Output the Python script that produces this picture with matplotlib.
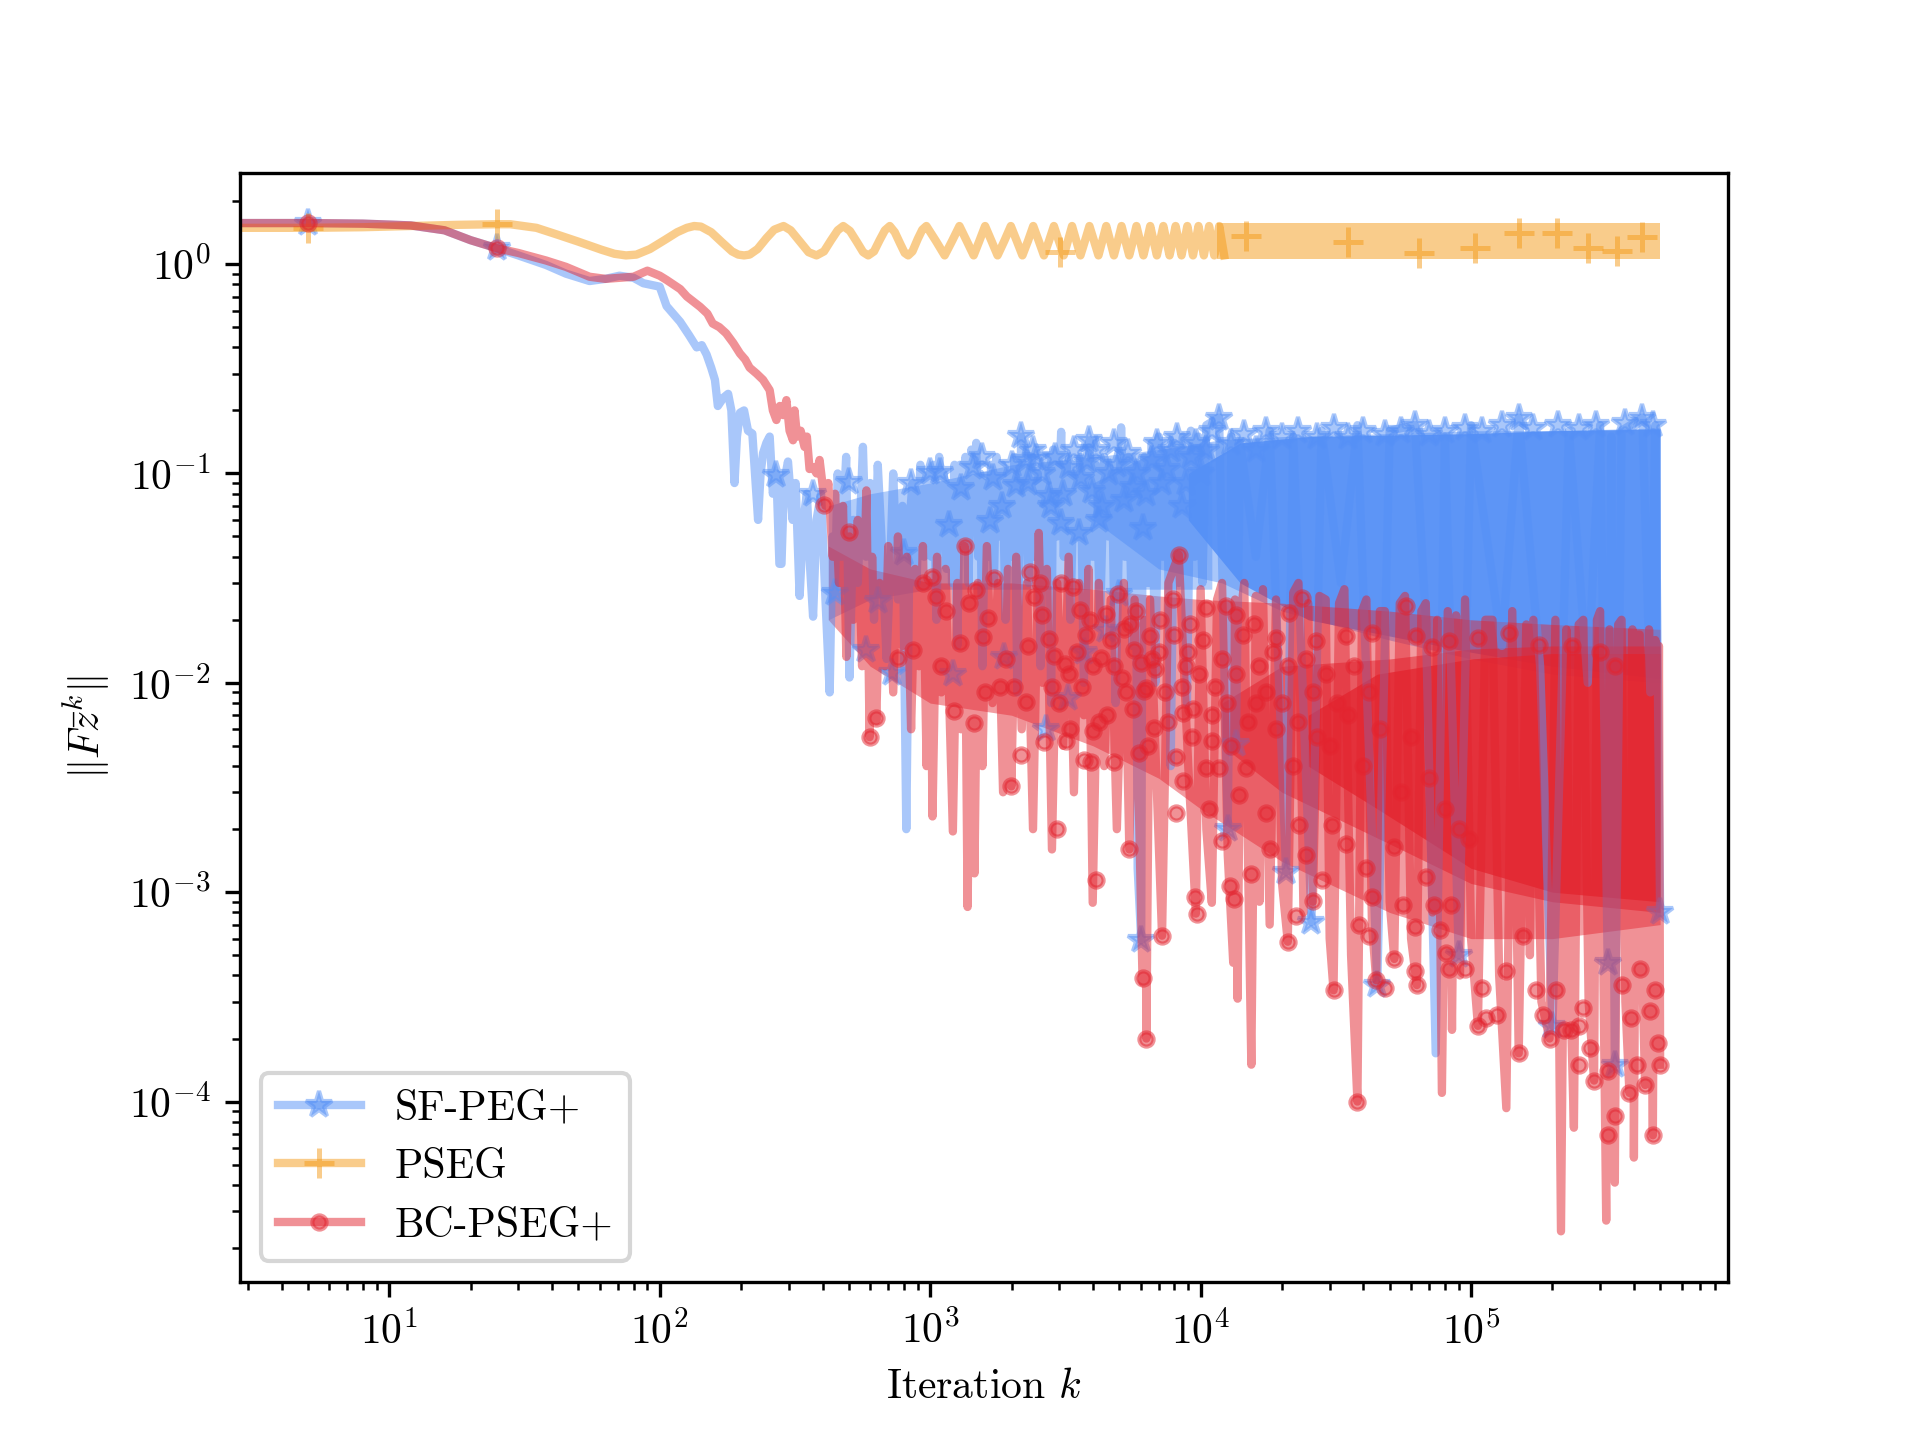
import matplotlib
matplotlib.use("Agg")
import matplotlib.pyplot as plt
from matplotlib.lines import Line2D

plt.rcParams.update({
    "font.family": "serif",
    "font.serif": ["cmr10"],
    "mathtext.fontset": "cm",
    "axes.formatter.use_mathtext": True,
    "axes.unicode_minus": False,
    "font.size": 10,
})

# ---------------- data ----------------
labels = ["SF-PEG+", "PSEG", "BC-PSEG+"]
colors = ["#5590F6", "#F59B19", "#E3242F"]

# SF-PEG+ line (iteration, value)
blue_line = [(2, 1.57), (5, 1.57), (8, 1.56), (12, 1.53), (16, 1.45), (20, 1.30), (25, 1.19),
    (30, 1.10), (38, 0.99), (45, 0.90), (55, 0.83), (63, 0.85), (71, 0.88), (80, 0.86), (87, 0.81),
    (100, 0.78), (106, 0.63), (112, 0.58), (119, 0.53), (128, 0.46), (137, 0.40), (143, 0.41),
    (149, 0.37), (155, 0.32), (160, 0.28), (164, 0.21), (172, 0.23), (179, 0.24), (184, 0.20),
    (189, 0.09), (193, 0.15), (198, 0.195), (205, 0.20), (212, 0.16), (220, 0.155), (231, 0.06),
    (236, 0.10), (241, 0.125), (248, 0.14), (255, 0.15), (262, 0.08), (270, 0.10), (277, 0.037),
    (282, 0.037), (288, 0.09), (298, 0.114), (310, 0.06), (318, 0.09), (329, 0.026), (340, 0.06),
    (350, 0.08), (360, 0.035), (369, 0.0207), (380, 0.06), (395, 0.08), (410, 0.025), (425, 0.009),
    (435, 0.05), (444, 0.027), (455, 0.10), (470, 0.04), (489, 0.12), (503, 0.0106), (520, 0.06),
    (540, 0.03), (564, 0.134), (580, 0.04), (600, 0.09), (620, 0.02), (640, 0.11), (660, 0.05),
    (690, 0.013), (708, 0.03), (730, 0.10), (760, 0.025), (790, 0.07), (816, 0.002), (840, 0.06),
    (860, 0.09), (890, 0.03), (920, 0.11), (950, 0.04), (990, 0.10), (1010, 0.04), (1030, 0.11),
    (1055, 0.02), (1080, 0.12), (1100, 0.05), (1120, 0.10), (1150, 0.035), (1180, 0.09),
    (1205, 0.03), (1230, 0.11), (1260, 0.015), (1290, 0.11), (1320, 0.045), (1350, 0.12),
    (1385, 0.03), (1420, 0.13), (1450, 0.06), (1480, 0.14), (1505, 0.04), (1530, 0.10),
    (1560, 0.012), (1600, 0.09), (1640, 0.04), (1680, 0.11), (1720, 0.03), (1760, 0.12),
    (1800, 0.05), (1850, 0.11), (1900, 0.02), (1950, 0.10), (2000, 0.04), (2050, 0.12),
    (2100, 0.009), (2170, 0.15), (2210, 0.05), (2250, 0.11), (2310, 0.03), (2380, 0.12),
    (2440, 0.04), (2500, 0.10), (2560, 0.012), (2620, 0.09), (2690, 0.04), (2750, 0.12),
    (2800, 0.008), (2850, 0.13), (2950, 0.05), (3050, 0.158), (3120, 0.04), (3200, 0.11),
    (3300, 0.02), (3400, 0.10), (3500, 0.05), (3600, 0.12), (3700, 0.01), (3880, 0.144),
    (3990, 0.04), (4100, 0.11), (4250, 0.02), (4400, 0.12), (4550, 0.05), (4700, 0.10),
    (4850, 0.008), (5080, 0.166), (5250, 0.04), (5400, 0.12), (5600, 0.015), (5750, 0.11),
    (5850, 0.0013), (6030, 0.00059), (6100, 0.10), (6200, 0.12), (6400, 0.03), (6600, 0.14),
    (6800, 0.01), (7000, 0.15), (7250, 0.04), (7500, 0.13), (7750, 0.004), (8000, 0.14),
    (8300, 0.03), (8600, 0.15), (8900, 0.008), (9200, 0.16), (9500, 0.04), (9800, 0.15),
    (10150, 0.03), (10500, 0.17), (11700, 0.185), (12600, 0.002), (13000, 0.15), (13500, 0.0051),
    (14000, 0.14), (16000, 0.04), (18000, 0.16), (20700, 0.00125), (22000, 0.15), (25700, 0.00072),
    (28000, 0.16), (33000, 0.03), (38000, 0.17), (45000, 0.00036), (50000, 0.16), (62000, 0.17),
    (68000, 0.02), (74000, 0.00017), (80000, 0.15), (90000, 0.0005), (100000, 0.17),
    (130000, 0.015), (150000, 0.185), (180000, 0.012), (200000, 0.00023), (230000, 0.16),
    (270000, 0.01), (300000, 0.17), (320000, 0.00046), (330000, 0.15), (340000, 0.00015),
    (360000, 0.16), (430000, 0.185), (460000, 0.009), (480000, 0.17), (500000, 0.0008)]

blue_marks = [(5, 1.57), (25, 1.19), (270, 0.098), (369, 0.080), (444, 0.027), (503, 0.091),
    (581, 0.0143), (641, 0.0245), (725, 0.0112), (803, 0.0415), (851, 0.090), (1000, 0.102),
    (1084, 0.102), (1175, 0.057), (1211, 0.011), (1300, 0.085), (1435, 0.107), (1550, 0.12),
    (1660, 0.059), (1700, 0.095), (1850, 0.070), (1880, 0.0133), (2000, 0.11), (2080, 0.088),
    (2170, 0.151), (2265, 0.116), (2300, 0.09), (2400, 0.13), (2470, 0.118), (2600, 0.10),
    (2690, 0.006), (2760, 0.078), (2800, 0.07), (2900, 0.12), (3050, 0.058), (3100, 0.08),
    (3220, 0.0085), (3270, 0.107), (3400, 0.13), (3560, 0.052), (3600, 0.095), (3720, 0.014),
    (3800, 0.115), (3880, 0.144), (3980, 0.082), (4100, 0.13), (4200, 0.06), (4330, 0.070),
    (4470, 0.0178), (4600, 0.10), (4800, 0.14), (4920, 0.11), (5000, 0.0265), (5200, 0.075),
    (5400, 0.125), (5600, 0.086), (5800, 0.10), (6030, 0.00059), (6100, 0.055), (6300, 0.08),
    (6600, 0.116), (6900, 0.14), (7200, 0.09), (7500, 0.105), (7800, 0.13), (8200, 0.15),
    (8500, 0.07), (8800, 0.09), (9200, 0.12), (9600, 0.14), (10000, 0.10), (10500, 0.13),
    (11000, 0.16), (11700, 0.185), (12600, 0.002), (13000, 0.14), (13500, 0.0051), (14500, 0.155),
    (16000, 0.13), (17500, 0.16), (20000, 0.15), (20700, 0.00125), (23000, 0.16), (25700, 0.00072),
    (27000, 0.15), (31000, 0.165), (35000, 0.15), (40000, 0.16), (45000, 0.00036), (48000, 0.155),
    (55000, 0.16), (62000, 0.17), (70000, 0.155), (80000, 0.16), (90000, 0.0005), (95000, 0.165),
    (110000, 0.16), (130000, 0.17), (150000, 0.185), (170000, 0.165), (200000, 0.00023),
    (210000, 0.17), (250000, 0.165), (290000, 0.17), (320000, 0.00046), (340000, 0.00015),
    (370000, 0.175), (430000, 0.185), (470000, 0.17), (500000, 0.0008)]

# dense parts of SF-PEG+ (iteration, lower, upper)
blue_pale = [(420, 0.02, 0.07), (600, 0.025, 0.08), (1000, 0.028, 0.09), (2000, 0.028, 0.11),
    (4000, 0.028, 0.12), (7000, 0.028, 0.13), (11000, 0.028, 0.14)]
blue_mid = [(4000, 0.06, 0.09), (7000, 0.035, 0.13), (12000, 0.03, 0.145), (20000, 0.022, 0.15),
    (50000, 0.016, 0.155), (100000, 0.013, 0.16), (200000, 0.011, 0.16), (500000, 0.010, 0.165)]
blue_core = [(9000, 0.06, 0.10), (14000, 0.03, 0.14), (25000, 0.02, 0.15), (100000, 0.014, 0.155),
    (200000, 0.012, 0.16), (500000, 0.0105, 0.163)]

# PSEG line
orange_line = [(2, 1.49), (5, 1.49), (8, 1.50), (12, 1.52), (18, 1.54), (25, 1.55), (28, 1.55),
    (35, 1.49), (42, 1.38), (50, 1.28), (61, 1.17), (68, 1.12), (75, 1.10), (82, 1.11), (92, 1.18),
    (104, 1.30), (116, 1.42), (126, 1.49), (134, 1.52), (142, 1.51), (155, 1.42), (170, 1.27),
    (185, 1.15), (195, 1.11), (205, 1.10), (215, 1.11), (230, 1.18), (248, 1.33), (265, 1.46),
    (287, 1.52), (305, 1.45), (330, 1.28), (355, 1.14), (380, 1.10), (405, 1.15), (430, 1.30),
    (455, 1.45), (477, 1.52), (505, 1.44), (535, 1.28), (565, 1.14), (590, 1.10), (620, 1.15),
    (650, 1.30), (680, 1.45), (709, 1.52), (740, 1.42), (775, 1.25), (805, 1.13), (829, 1.10),
    (860, 1.15), (900, 1.32), (935, 1.46), (968, 1.52), (1050, 1.29), (1131, 1.10), (1205, 1.29),
    (1283, 1.52), (1365, 1.29), (1448, 1.10), (1520, 1.29), (1596, 1.52), (1685, 1.29),
    (1775, 1.10), (1880, 1.29), (1987, 1.52), (2090, 1.29), (2193, 1.10), (2300, 1.29),
    (2405, 1.52), (2520, 1.29), (2634, 1.10), (2750, 1.29), (2867, 1.52), (2990, 1.29),
    (3118, 1.10), (3230, 1.29), (3346, 1.52), (3470, 1.29), (3595, 1.10), (3735, 1.29),
    (3880, 1.52), (4035, 1.29), (4190, 1.10), (4330, 1.29), (4477, 1.52), (4630, 1.29),
    (4780, 1.10), (4940, 1.29), (5100, 1.52), (5270, 1.29), (5445, 1.10), (5620, 1.29),
    (5790, 1.52), (5970, 1.29), (6145, 1.10), (6330, 1.29), (6510, 1.52), (6700, 1.29),
    (6890, 1.10), (7080, 1.29), (7280, 1.52), (7480, 1.29), (7675, 1.10), (7880, 1.29),
    (8080, 1.52), (8290, 1.29), (8500, 1.10), (8710, 1.29), (8930, 1.52), (9150, 1.29),
    (9370, 1.10), (9600, 1.29), (9820, 1.52), (10050, 1.29), (10280, 1.10), (10510, 1.29),
    (10750, 1.52), (10990, 1.29), (11230, 1.10), (11470, 1.29), (11720, 1.52), (11970, 1.29),
    (12220, 1.10)]
orange_dense = [(11500, 1.06, 1.57), (500000, 1.06, 1.57)]
orange_marks = [(5, 1.49), (25, 1.55), (3020, 1.14), (14700, 1.36), (35200, 1.28), (64300, 1.13),
    (103000, 1.20), (150000, 1.40), (207000, 1.40), (271000, 1.20), (347000, 1.15), (430000, 1.35)]

# BC-PSEG+ line
red_line = [(2, 1.57), (5, 1.57), (8, 1.56), (12, 1.53), (16, 1.45), (20, 1.30), (25, 1.19),
    (30, 1.13), (38, 1.04), (45, 0.97), (55, 0.87), (63, 0.85), (71, 0.86), (80, 0.87), (90, 0.93),
    (100, 0.88), (106, 0.84), (119, 0.76), (126, 0.70), (141, 0.625), (150, 0.58), (157, 0.52),
    (166, 0.50), (176, 0.467), (187, 0.42), (198, 0.374), (207, 0.35), (215, 0.32), (228, 0.30),
    (241, 0.28), (255, 0.25), (262, 0.20), (270, 0.18), (278, 0.21), (286, 0.19), (294, 0.224),
    (302, 0.16), (311, 0.144), (315, 0.20), (322, 0.15), (332, 0.16), (343, 0.134), (350, 0.15),
    (358, 0.105), (369, 0.107), (380, 0.10), (390, 0.116), (401, 0.086), (410, 0.07), (420, 0.09),
    (436, 0.04), (445, 0.08), (460, 0.03), (476, 0.07), (490, 0.0133), (503, 0.05), (520, 0.02),
    (540, 0.06), (560, 0.012), (581, 0.083), (597, 0.0055), (610, 0.04), (632, 0.0066), (650, 0.03),
    (680, 0.012), (700, 0.045), (730, 0.009), (760, 0.05), (790, 0.015), (820, 0.04), (850, 0.006),
    (880, 0.035), (910, 0.012), (940, 0.045), (970, 0.004), (1000, 0.03), (1020, 0.0023),
    (1060, 0.04), (1100, 0.009), (1140, 0.035), (1213, 0.00195), (1260, 0.03), (1300, 0.006),
    (1340, 0.045), (1375, 0.00085), (1420, 0.025), (1458, 0.00123), (1500, 0.03), (1560, 0.004),
    (1620, 0.045), (1700, 0.008), (1780, 0.03), (1860, 0.003), (1940, 0.035), (1995, 0.0032),
    (2080, 0.04), (2180, 0.006), (2280, 0.03), (2400, 0.002), (2520, 0.052), (2600, 0.01),
    (2700, 0.035), (2820, 0.0016), (2950, 0.03), (3100, 0.005), (3250, 0.04), (3400, 0.003),
    (3550, 0.03), (3700, 0.007), (3850, 0.035), (3990, 0.00089), (4200, 0.03), (4400, 0.004),
    (4650, 0.025), (4900, 0.002), (5200, 0.03), (5450, 0.0016), (5700, 0.025), (6100, 0.00037),
    (6200, 0.02), (6300, 0.0002), (6500, 0.025), (7200, 0.00062), (7600, 0.03), (8300, 0.041),
    (9000, 0.004), (9600, 0.00079), (10000, 0.028), (10500, 0.002), (11000, 0.00089),
    (11500, 0.025), (12000, 0.03), (12600, 0.0015), (13200, 0.00046), (13400, 0.025),
    (13700, 0.00031), (14100, 0.022), (14500, 0.03), (15000, 0.0012), (15400, 0.00015),
    (16000, 0.026), (16500, 0.0009), (17000, 0.028), (18000, 0.0007), (19000, 0.025),
    (20000, 0.0011), (21000, 0.00058), (22000, 0.027), (23000, 0.03), (24000, 0.0008),
    (25000, 0.024), (26000, 0.0009), (27500, 0.026), (29000, 0.025), (30000, 0.0006),
    (31000, 0.00034), (32500, 0.024), (34000, 0.028), (36000, 0.0005), (38000, 0.0001),
    (39500, 0.022), (41000, 0.025), (43000, 0.0007), (44600, 0.00038), (46000, 0.022),
    (48000, 0.022), (50000, 0.0009), (52000, 0.00048), (54500, 0.024), (57000, 0.026),
    (60000, 0.0006), (63000, 0.00036), (65500, 0.022), (68000, 0.024), (72000, 0.0008),
    (75000, 0.02), (78000, 0.00011), (82000, 0.022), (85000, 0.00022), (88000, 0.021),
    (91000, 0.0004), (95000, 0.025), (100000, 0.0006), (106000, 0.00023), (113000, 0.02),
    (120000, 0.02), (127000, 0.0004), (135000, 0.000093), (142000, 0.022), (150000, 0.00017),
    (160000, 0.019), (165000, 0.0005), (170000, 0.02), (182000, 0.0003), (195000, 0.0002),
    (205000, 0.02), (215000, 0.000024), (225000, 0.018), (232000, 0.0004), (240000, 0.000075),
    (250000, 0.019), (260000, 0.02), (272000, 0.0003), (285000, 0.000126), (292000, 0.02),
    (300000, 0.022), (308000, 0.0005), (316000, 0.000027), (325000, 0.018), (340000, 0.000041),
    (350000, 0.019), (360000, 0.02), (372000, 0.0003), (385000, 0.00011), (395000, 0.018),
    (400000, 0.000054), (410000, 0.017), (420000, 0.017), (430000, 0.0004), (440000, 0.00012),
    (455000, 0.018), (470000, 0.000069), (480000, 0.016), (490000, 0.00019), (495000, 0.015),
    (500000, 0.00015)]

red_marks = [(5, 1.57), (25, 1.19), (405, 0.071), (503, 0.0525), (597, 0.0055), (632, 0.0068),
    (759, 0.0132), (861, 0.0143), (940, 0.030), (1018, 0.032), (1050, 0.0256), (1100, 0.012),
    (1148, 0.022), (1222, 0.0073), (1290, 0.0155), (1340, 0.045), (1387, 0.024), (1458, 0.0064),
    (1480, 0.0277), (1574, 0.0166), (1600, 0.009), (1643, 0.0205), (1729, 0.0315), (1807, 0.0096),
    (1910, 0.013), (1995, 0.0032), (2050, 0.0095), (2170, 0.0045), (2265, 0.0081), (2300, 0.015),
    (2340, 0.034), (2430, 0.0257), (2550, 0.030), (2600, 0.021), (2630, 0.0052), (2760, 0.0162),
    (2830, 0.0096), (2880, 0.0134), (2950, 0.002), (3000, 0.008), (3050, 0.030), (3140, 0.0123),
    (3180, 0.0053), (3270, 0.011), (3300, 0.006), (3370, 0.0288), (3500, 0.014), (3570, 0.0223),
    (3650, 0.0095), (3720, 0.0043), (3780, 0.017), (3900, 0.02), (3930, 0.0042), (3990, 0.0059),
    (4000, 0.012), (4120, 0.00114), (4200, 0.0065), (4290, 0.0132), (4470, 0.0213), (4500, 0.007),
    (4670, 0.016), (4790, 0.0042), (4800, 0.012), (4940, 0.0265), (5100, 0.0105), (5200, 0.018),
    (5300, 0.009), (5450, 0.0016), (5500, 0.019), (5600, 0.0075), (5690, 0.0143), (5780, 0.022),
    (5940, 0.0046), (6000, 0.0125), (6100, 0.00039), (6200, 0.0091), (6300, 0.0002), (6300, 0.0094),
    (6400, 0.005), (6500, 0.0168), (6610, 0.013), (6700, 0.0061), (6800, 0.0116), (7000, 0.014),
    (7100, 0.020), (7200, 0.00062), (7400, 0.009), (7600, 0.0065), (7900, 0.025), (8000, 0.017),
    (8100, 0.0044), (8100, 0.0024), (8300, 0.041), (8500, 0.0095), (8580, 0.0034), (8600, 0.0072),
    (8800, 0.012), (9000, 0.014), (9100, 0.019), (9300, 0.0055), (9400, 0.0075), (9500, 0.00095),
    (9700, 0.00079), (9900, 0.011), (10200, 0.016), (10500, 0.0228), (10500, 0.0039),
    (10700, 0.0025), (11000, 0.0053), (11000, 0.007), (11300, 0.0095), (11700, 0.0039),
    (12000, 0.00175), (12000, 0.013), (12400, 0.0234), (12500, 0.008), (12800, 0.00107),
    (13000, 0.005), (13300, 0.00093), (13500, 0.021), (13500, 0.011), (13900, 0.0029),
    (14300, 0.017), (14700, 0.0039), (15000, 0.0065), (15400, 0.00122), (15800, 0.019),
    (16000, 0.008), (16500, 0.012), (17400, 0.0024), (17500, 0.009), (18000, 0.0016),
    (18500, 0.014), (19000, 0.0163), (19000, 0.006), (20000, 0.008), (21000, 0.00058),
    (21000, 0.012), (21300, 0.0215), (22000, 0.004), (22500, 0.00077), (23000, 0.0065),
    (23200, 0.0021), (23800, 0.0253), (24500, 0.0015), (24500, 0.013), (26000, 0.00091),
    (26000, 0.009), (26700, 0.0158), (27000, 0.0055), (28000, 0.00114), (29000, 0.011),
    (30000, 0.005), (30700, 0.0021), (31000, 0.00034), (32000, 0.008), (34500, 0.0017),
    (34500, 0.0168), (35000, 0.007), (37000, 0.012), (38000, 0.0001), (38600, 0.0007),
    (40000, 0.004), (41000, 0.0013), (42000, 0.00062), (42000, 0.009), (43000, 0.00095),
    (43000, 0.0173), (44600, 0.00038), (46000, 0.006), (48000, 0.00035), (52000, 0.00048),
    (52000, 0.00164), (55000, 0.003), (55800, 0.00087), (57500, 0.0234), (60000, 0.0055),
    (62000, 0.00068), (62000, 0.00042), (62600, 0.0168), (63000, 0.00036), (68000, 0.00118),
    (70000, 0.0035), (72000, 0.0148), (73000, 0.00087), (77000, 0.00066), (80000, 0.0025),
    (81000, 0.00051), (83000, 0.00043), (83000, 0.0158), (84000, 0.00087), (90000, 0.002),
    (95000, 0.00043), (98000, 0.0018), (106000, 0.00023), (106000, 0.0163), (110000, 0.00035),
    (114000, 0.00025), (125000, 0.00026), (135000, 0.00042), (138000, 0.0173), (150000, 0.00017),
    (155000, 0.00062), (174000, 0.00034), (178000, 0.0152), (184000, 0.00026), (195000, 0.0002),
    (206000, 0.00034), (220000, 0.00022), (234000, 0.00022), (236000, 0.015), (250000, 0.00015),
    (250000, 0.00023), (260000, 0.00028), (275000, 0.00018), (285000, 0.000126), (300000, 0.014),
    (320000, 0.000069), (320000, 0.00014), (340000, 0.000085), (340000, 0.012), (360000, 0.00036),
    (385000, 0.00011), (390000, 0.00025), (410000, 0.00015), (420000, 0.00043), (440000, 0.00012),
    (460000, 0.00027), (470000, 0.000069), (480000, 0.00034), (490000, 0.00019), (500000, 0.00015)]

# dense parts of BC-PSEG+ (iteration, lower, upper)
red_pale = [(420, 0.02, 0.045), (600, 0.012, 0.035), (1000, 0.008, 0.03), (2000, 0.007, 0.03),
    (4000, 0.005, 0.028), (7000, 0.0035, 0.026), (10000, 0.0025, 0.025), (20000, 0.0014, 0.024),
    (50000, 0.0008, 0.022), (100000, 0.0006, 0.02), (200000, 0.0006, 0.019), (500000, 0.0007, 0.018)]
red_mid = [(12000, 0.005, 0.008), (20000, 0.003, 0.012), (50000, 0.0017, 0.013),
    (100000, 0.0011, 0.0145), (200000, 0.0009, 0.015), (500000, 0.0008, 0.015)]
red_core = [(25000, 0.004, 0.007), (45000, 0.0025, 0.011), (100000, 0.0013, 0.013),
    (200000, 0.001, 0.0138), (500000, 0.0009, 0.0138)]

x_limits = (10 ** 0.448, 10 ** 5.95)
y_limits = (10 ** -4.86, 10 ** 0.436)


def cols(pts):
    return [list(c) for c in zip(*pts)]


fig, ax = plt.subplots(figsize=(6.4, 4.8), dpi=300)
ax.set_xscale("log")
ax.set_yscale("log")

LW = 2.0
A = 0.5

# ---- SF-PEG+ ----
c = colors[0]
for band, a in ((blue_pale, 0.45), (blue_mid, 0.5), (blue_core, 0.9)):
    bx, blo, bhi = cols(band)
    ax.fill_between(bx, blo, bhi, color=c, alpha=a, lw=0)
bx, by = cols(blue_line)
ax.plot(bx, by, color=c, lw=LW, alpha=A)
mx, my = cols(blue_marks)
ax.plot(mx, my, ls="none", marker="*", ms=6.5, color=c, alpha=A)

# ---- PSEG ----
c = colors[1]
ox, oy = cols(orange_line)
ax.plot(ox, oy, color=c, lw=LW, alpha=A)
dx, dlo, dhi = cols(orange_dense)
ax.fill_between(dx, dlo, dhi, color=c, alpha=A, lw=0)
mx, my = cols(orange_marks)
ax.plot(mx, my, ls="none", marker="+", ms=7, mew=1.2, color=c, alpha=A)

# ---- BC-PSEG+ ----
c = colors[2]
for band, a in ((red_pale, 0.45), (red_mid, 0.55), (red_core, 0.75)):
    bx, blo, bhi = cols(band)
    ax.fill_between(bx, blo, bhi, color=c, alpha=a, lw=0)
rx, ry = cols(red_line)
ax.plot(rx, ry, color=c, lw=LW, alpha=A)
mx, my = cols(red_marks)
ax.plot(mx, my, ls="none", marker="o", ms=3.4, color=c, alpha=A)

ax.set_xlim(*x_limits)
ax.set_ylim(*y_limits)
ax.set_xlabel("Iteration $k$")
ax.set_ylabel(r"$\|F\bar{z}^k\|$")

handles = [
    Line2D([0], [0], color=colors[0], lw=LW, alpha=A, marker="*", ms=6.5),
    Line2D([0], [0], color=colors[1], lw=LW, alpha=A, marker="+", ms=7, mew=1.2),
    Line2D([0], [0], color=colors[2], lw=LW, alpha=A, marker="o", ms=3.4),
]
ax.legend(handles, labels, loc="lower left", fontsize=10)

fig.savefig("out.png", dpi=300)
